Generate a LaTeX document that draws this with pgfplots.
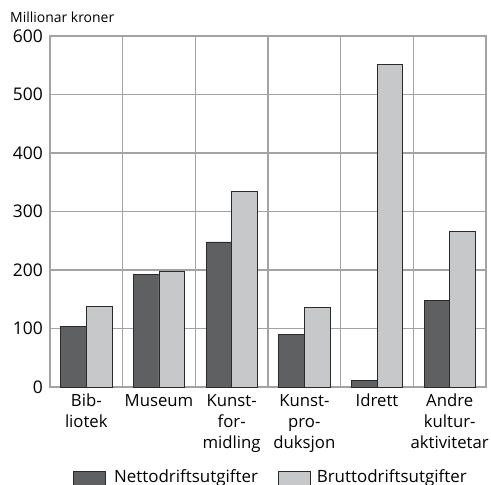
\documentclass[border=0pt]{standalone}
\usepackage{fontspec}
\setmainfont{Open Sans}
\usepackage{pgfplots}
\pgfplotsset{compat=1.18}
\definecolor{darkbar}{HTML}{5F6062}
\definecolor{lightbar}{HTML}{C7C8CA}
\definecolor{gridc}{HTML}{A3A3A3}
\definecolor{edge}{HTML}{2A2A2A}
\begin{document}
\begin{tikzpicture}
\begin{axis}[name=ax, scale only axis, width=436bp, height=351bp,
  xmin=-0.5, xmax=5.5, ymin=0, ymax=600,
  ytick={0,100,200,300,400,500,600},
  xtick={0,1,2,3,4,5},
  xticklabels={{\strut Bib-\\liotek},{\strut Museum},{\strut Kunst-\\for-\\midling},{\strut Kunst-\\pro-\\duksjon},{\strut Idrett},{\strut Andre\\kultur-\\aktivitetar}},
  xticklabel style={align=center, font=\fontsize{16.8}{21}\selectfont, anchor=north, inner sep=0pt, yshift=-4.5bp},
  yticklabel style={font=\fontsize{17.5}{20}\selectfont, anchor=east, inner sep=0pt, xshift=-7bp},
  /pgf/number format/assume math mode=true,
  minor xtick={-0.5,0.5,1.5,2.5,3.5,4.5,5.5},
  ymajorgrids, xminorgrids,
  major tick length=0pt, minor tick length=0pt,
  major grid style={gridc, line width=1.3pt},
  minor grid style={gridc, line width=1.3pt},
  axis line style={gridc, line width=1.3pt},
  ybar=0pt, bar width=0.353,
  legend style={at={(0.5,0)}, anchor=north, yshift=-80.5bp, xshift=3bp, draw=none, fill=none,
    legend columns=2, font=\fontsize{17}{20}\selectfont, inner sep=0pt,
    /tikz/every even column/.append style={column sep=18bp}},
  legend image code/.code={\draw[#1] (0bp,-17bp) rectangle (32bp,6bp);},
]
\addplot[fill=darkbar, draw=edge, line width=0.8bp] coordinates {(0,103) (1,192) (2,248) (3,90) (4,11) (5,148)};
\addplot[fill=lightbar, draw=edge, line width=0.8bp] coordinates {(0,137) (1,198) (2,335) (3,136) (4,552) (5,266)};
\legend{\hspace{6bp}Nettodriftsutgifter, \hspace{4bp}Bruttodriftsutgifter}
\end{axis}
\node[anchor=base west, font=\fontsize{14}{16}\selectfont, inner sep=0pt] at ([xshift=-40bp,yshift=13bp]ax.north west) {Millionar kroner};
\pgfresetboundingbox
\path ([xshift=-50bp,yshift=-98bp]ax.south west) rectangle ([xshift=5bp,yshift=36bp]ax.north east);
\end{tikzpicture}
\end{document}
